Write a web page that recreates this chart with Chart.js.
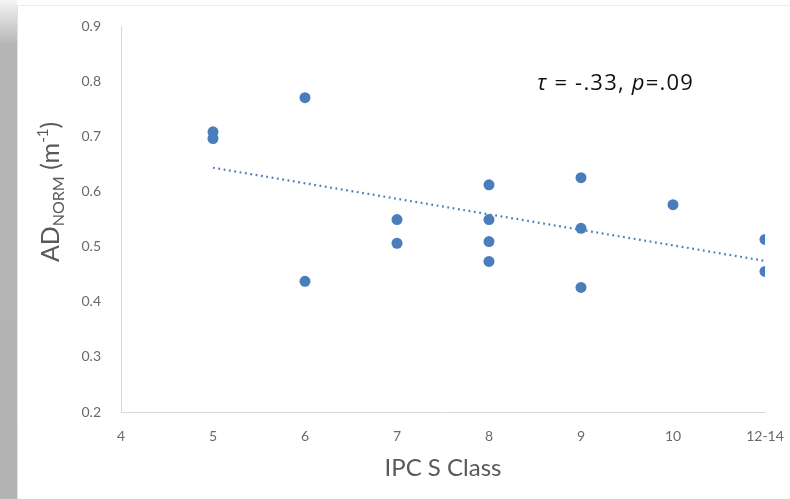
<!DOCTYPE html>
<html>
<head>
<meta charset="utf-8">
<script src="https://cdn.jsdelivr.net/npm/chart.js@4"></script>
<style>
  html, body { margin: 0; padding: 0; background: #fff; }
  #wrap { position: relative; width: 790px; height: 499px; overflow: hidden; }
  #band { position: absolute; left: 0; top: 0; width: 17px; height: 499px;
          background: linear-gradient(to bottom, #f4f4f4 0px, #b5b5b5 45px, #b3b3b3 100%); }
  #card { position: absolute; left: 17px; top: 5px; right: 0; bottom: 0;
          border-top: 1px solid #ececec; border-left: 1px solid #e2e2e2; background: #fff; }
  #chart { position: absolute; left: 0; top: 0; }
</style>
</head>
<body>
<div id="wrap">
  <div id="band"></div>
  <div id="card"></div>
  <canvas id="chart" width="790" height="499"></canvas>
</div>
<script>
/* ── DATA ── */
const ipcClass = [5, 5, 6, 6, 7, 7, 8, 8, 8, 8, 9, 9, 9, 10, 11, 11];
const adNorm   = [0.708, 0.696, 0.770, 0.437, 0.549, 0.506, 0.612, 0.549, 0.509, 0.473, 0.625, 0.533, 0.426, 0.576, 0.513, 0.455];
const trendX   = [5, 11];
const trendY   = [0.643, 0.474];
const xTickLabels = { 4: '4', 5: '5', 6: '6', 7: '7', 8: '8', 9: '9', 10: '10', 11: '12-14' };

const BLUE = '#4a7ebb';
const TICK = '#6a6a6a';
const FONT = 'Lato, "Open Sans", sans-serif';
const NOTE_FONT = '"Open Sans", Lato, sans-serif';

/* ── TEXT PLUGIN (axis titles + annotation with sub/superscripts) ── */
function drawRuns(ctx, runs, x, y) {
  let cx = x;
  runs.forEach(r => {
    ctx.font = r.font;
    ctx.fillText(r.t, cx, y + (r.dy || 0));
    cx += ctx.measureText(r.t).width;
  });
}
function runsWidth(ctx, runs) {
  return runs.reduce((w, r) => { ctx.font = r.font; return w + ctx.measureText(r.t).width; }, 0);
}

const textPlugin = {
  id: 'textPlugin',
  afterDraw(chart) {
    const ctx = chart.ctx;
    const area = chart.chartArea;
    ctx.save();
    ctx.textBaseline = 'alphabetic';
    ctx.textAlign = 'left';

    // y axis title
    ctx.fillStyle = '#595959';
    const yRuns = [
      { t: 'AD', font: '25px ' + FONT },
      { t: 'NORM', font: '16px ' + FONT, dy: 5 },
      { t: ' (m', font: '25px ' + FONT },
      { t: '-1', font: '15px ' + FONT, dy: -11 },
      { t: ')', font: '25px ' + FONT },
    ];
    ctx.save();
    ctx.translate(59, 192);
    ctx.rotate(-Math.PI / 2);
    drawRuns(ctx, yRuns, -runsWidth(ctx, yRuns) / 2, 0);
    ctx.restore();

    // x axis title
    const xRuns = [{ t: 'IPC S Class', font: '24px ' + FONT }];
    drawRuns(ctx, xRuns, (area.left + area.right) / 2 - runsWidth(ctx, xRuns) / 2, 476);

    // annotation
    ctx.fillStyle = '#111';
    ctx.letterSpacing = '1.2px';
    const aRuns = [
      { t: 'τ', font: 'italic 22px ' + NOTE_FONT },
      { t: ' = -.33, ', font: '22px ' + NOTE_FONT },
      { t: 'p', font: 'italic 22px ' + NOTE_FONT },
      { t: '=.09', font: '22px ' + NOTE_FONT },
    ];
    drawRuns(ctx, aRuns, 537, 90);
    ctx.letterSpacing = '0px';
    ctx.restore();
  }
};

/* ── CHART ── */
new Chart(document.getElementById('chart'), {
  type: 'scatter',
  data: {
    datasets: [
      {
        data: ipcClass.map((x, i) => ({ x, y: adNorm[i] })),
        backgroundColor: BLUE,
        borderColor: BLUE,
        borderWidth: 0,
        pointRadius: 5.5,
        pointHoverRadius: 5.5,
      },
      {
        type: 'line',
        data: trendX.map((x, i) => ({ x, y: trendY[i] })),
        borderColor: BLUE,
        borderWidth: 2.2,
        borderDash: [1.8, 3.6],
        pointRadius: 0,
        fill: false,
        tension: 0,
      }
    ]
  },
  options: {
    responsive: false,
    animation: false,
    layout: { padding: { top: 26, right: 25, left: 0, bottom: 0 } },
    plugins: { legend: { display: false }, tooltip: { enabled: false } },
    scales: {
      x: {
        type: 'linear', min: 4, max: 11,
        afterFit: s => { s.height = 87; s.paddingRight = 0; s.paddingLeft = 0; },
        ticks: {
          stepSize: 1, padding: 16, color: TICK,
          font: { family: FONT, size: 14 },
          callback: v => xTickLabels[v] ?? ''
        },
        grid: { display: true, drawOnChartArea: false, drawTicks: false },
        border: { display: true, color: '#d9d9d9', width: 1 },
      },
      y: {
        min: 0.2, max: 0.9,
        afterFit: s => { s.width = 121; s.paddingTop = 0; s.paddingBottom = 0; },
        ticks: {
          stepSize: 0.1, padding: 20, color: TICK,
          font: { family: FONT, size: 14 },
          callback: v => Number(v).toFixed(1)
        },
        grid: { display: true, drawOnChartArea: false, drawTicks: false },
        border: { display: true, color: '#d9d9d9', width: 1 },
      }
    }
  },
  plugins: [textPlugin]
});
</script>
</body>
</html>
